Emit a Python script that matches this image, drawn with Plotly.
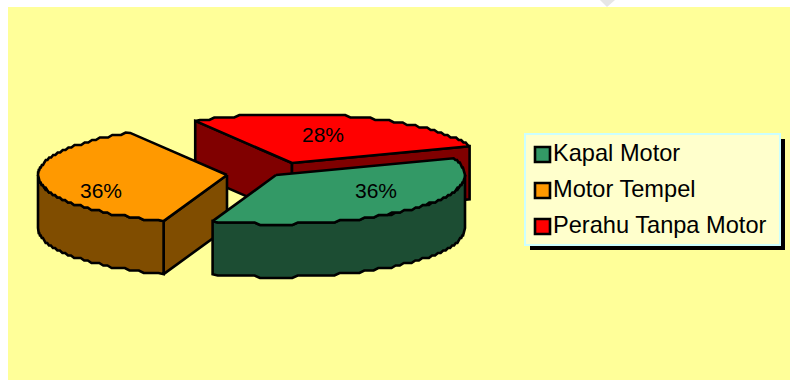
import numpy as np
import plotly.graph_objects as go

# ---- chart data ----
categories = ["Kapal Motor", "Motor Tempel", "Perahu Tanpa Motor"]
values = [36, 36, 28]
top_colors = ["#339966", "#FF9900", "#FF0000"]
side_colors = ["#1C4D33", "#804D00", "#800000"]

# ---- pie geometry (pixels) ----
RX, RY, DEPTH = 189.0, 49.0, 53.0
START_ANGLE = 20.0
apex = {"Kapal Motor": (276, 175), "Motor Tempel": (227, 175), "Perahu Tanpa Motor": (292, 163)}
label_pos = {"Kapal Motor": (376, 190), "Motor Tempel": (101, 190), "Perahu Tanpa Motor": (323, 134)}
FONT = "Liberation Sans, Arial, sans-serif"

fig = go.Figure()


def arc(cx, cy, a0, a1):
    """Elliptical arc from a0 to a1 degrees, with small steps like the low-res original."""
    n = max(int(abs(a1 - a0) / 1.6), 2)
    t = np.radians(np.linspace(a0, a1, n))
    x = cx + RX * np.cos(t)
    y = np.round((cy - RY * np.sin(t)) / 2.5) * 2.5
    y[0] = cy - RY * np.sin(t[0])
    y[-1] = cy - RY * np.sin(t[-1])
    return x, y


def poly(xs, ys, color):
    fig.add_trace(go.Scatter(x=list(xs), y=list(ys), mode="lines", fill="toself", fillcolor=color,
                             line=dict(color="black", width=2.6), hoverinfo="skip", showlegend=False))


total = sum(values)
angles = {}
cur = START_ANGLE
for name, v in zip(categories, values):
    angles[name] = (cur, cur - 360.0 * v / total)
    cur -= 360.0 * v / total

draw_order = ["Perahu Tanpa Motor", "Motor Tempel", "Kapal Motor"]
for name in draw_order:
    i = categories.index(name)
    a0, a1 = angles[name]
    cx, cy = apex[name]
    side, top = side_colors[i], top_colors[i]

    def pt(a):
        return cx + RX * np.cos(np.radians(a)), cy - RY * np.sin(np.radians(a))

    # radial walls that face the viewer
    for a in (a0, a1):
        px, py = pt(a)
        faces_front = (name == "Perahu Tanpa Motor") or (name == "Motor Tempel" and a == a0)
        if faces_front:
            poly([cx, px, px, cx, cx], [cy, py, py + DEPTH, cy + DEPTH, cy], side)

    # outer curved wall: portion on the front half of the ellipse
    lo, hi = min(a0, a1), max(a0, a1)
    for k in (0, -360):
        s0, s1 = max(lo + k, -180), min(hi + k, 0)
        if s1 > s0:
            xs, ys = arc(cx, cy, s1, s0)
            xb, yb = xs[::-1], ys[::-1] + DEPTH
            poly(np.r_[xs, xb, xs[0]], np.r_[ys, yb, ys[0]], side)

    # top face
    xs, ys = arc(cx, cy, a0, a1)
    poly(np.r_[cx, xs, cx], np.r_[cy, ys, cy], top)

    lx, ly = label_pos[name]
    fig.add_annotation(x=lx, y=ly, text=f"{values[i]}%", showarrow=False,
                       font=dict(family=FONT, size=21, color="black"))

# ---- background, page mark and legend ----
shapes = [
    dict(type="rect", x0=8, x1=790, y0=7, y1=380, fillcolor="#FFFF99", line=dict(width=0), layer="below"),
    dict(type="path", path="M600,0 L615,0 L607,7 Z", fillcolor="#E6E6E6", line=dict(width=0), layer="below"),
    dict(type="rect", x0=530, x1=785, y0=139, y1=250, fillcolor="black", line=dict(width=0), layer="below"),
    dict(type="rect", x0=525, x1=780, y0=134, y1=245, fillcolor="#FFFFCC", line=dict(color="#CCFFFF", width=2), layer="below"),
]
leg_y = [154, 190, 226]
for name, c, y in zip(categories, top_colors, leg_y):
    shapes.append(dict(type="rect", x0=535, x1=550, y0=y - 7, y1=y + 8, fillcolor=c,
                       line=dict(color="black", width=2.6), layer="above"))
    fig.add_annotation(x=551, y=y - 1, text=name, showarrow=False, xanchor="left",
                       font=dict(family=FONT, size=23.6, color="black"))

fig.update_layout(
    width=790, height=380, margin=dict(l=0, r=0, t=0, b=0),
    paper_bgcolor="white", plot_bgcolor="rgba(0,0,0,0)", showlegend=False, shapes=shapes,
    xaxis=dict(range=[0, 790], visible=False, fixedrange=True),
    yaxis=dict(range=[380, 0], visible=False, fixedrange=True),
)
fig.write_html("out.html", config={"displayModeBar": False},
               post_script="document.body.style.margin='0';document.documentElement.style.overflow='hidden';")
